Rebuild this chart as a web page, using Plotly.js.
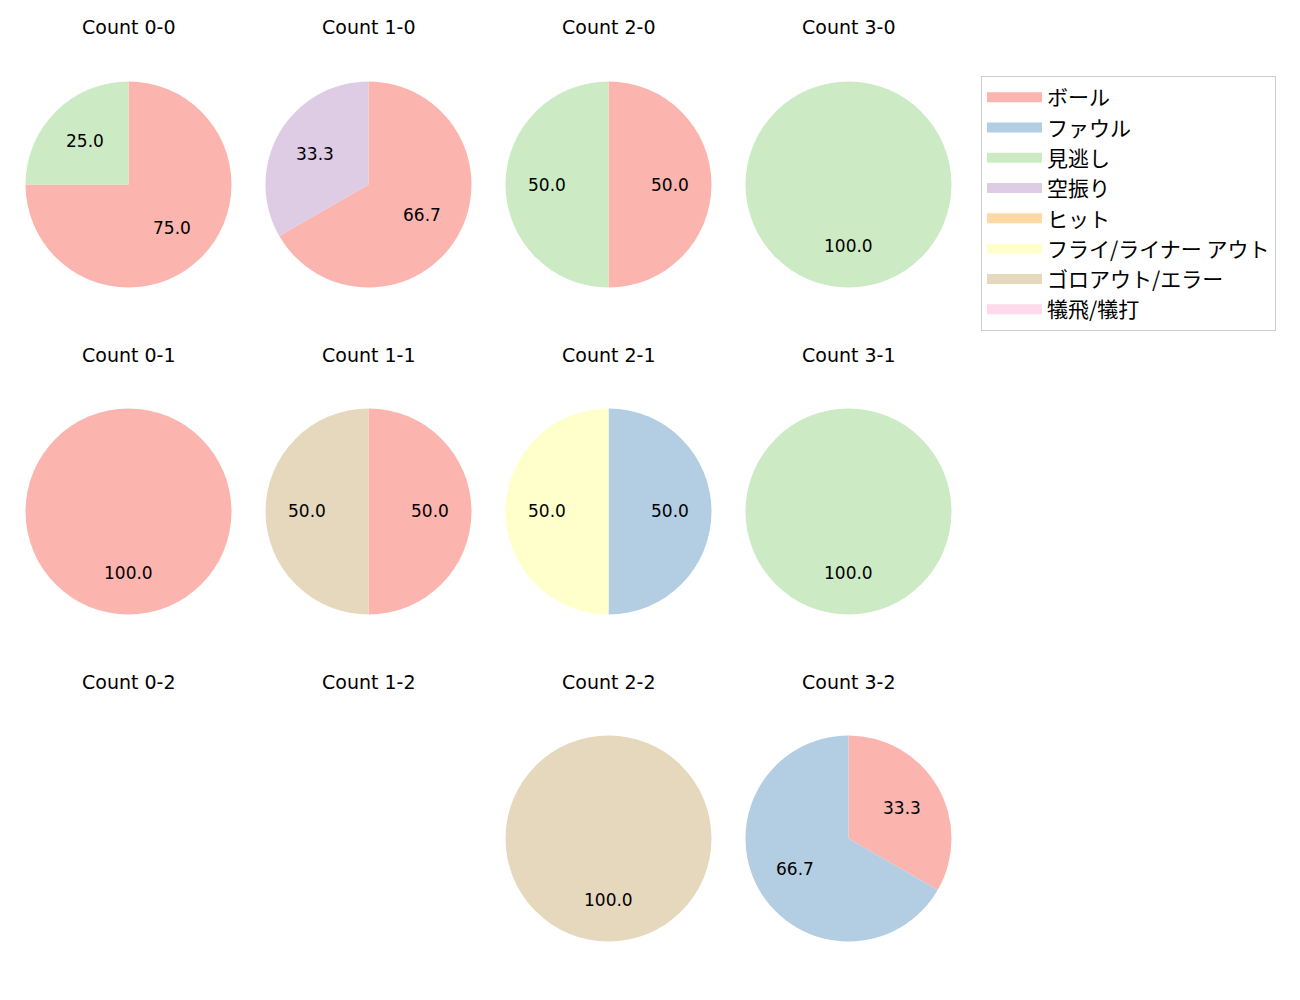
<!DOCTYPE html>
<html><head><meta charset="utf-8">
<script src="https://cdn.plot.ly/plotly-3.0.1.min.js"></script>
<style>body{margin:0;background:#fff}</style>
</head><body><div id="chart" style="width:1300px;height:1000px"></div>
<script>
// ---- data ----
const categories = ['ボール','ファウル','見逃し','空振り','ヒット','フライ/ライナー アウト','ゴロアウト/エラー','犠飛/犠打'];
const colors = ['#fbb4ae','#b3cde3','#ccebc5','#decbe4','#fed9a6','#ffffcc','#e5d8bd','#fddaec'];
const countLabels = ['0-0','1-0','2-0','3-0','0-1','1-1','2-1','3-1','0-2','1-2','2-2','3-2'];
const count_0_0 = [3,0,1,0,0,0,0,0];
const count_1_0 = [2,0,0,1,0,0,0,0];
const count_2_0 = [1,0,1,0,0,0,0,0];
const count_3_0 = [0,0,1,0,0,0,0,0];
const count_0_1 = [1,0,0,0,0,0,0,0];
const count_1_1 = [1,0,0,0,0,0,1,0];
const count_2_1 = [0,1,0,0,0,1,0,0];
const count_3_1 = [0,0,1,0,0,0,0,0];
const count_0_2 = [0,0,0,0,0,0,0,0];
const count_1_2 = [0,0,0,0,0,0,0,0];
const count_2_2 = [0,0,0,0,0,0,1,0];
const count_3_2 = [1,2,0,0,0,0,0,0];
const countValues = [count_0_0,count_1_0,count_2_0,count_3_0,count_0_1,count_1_1,count_2_1,count_3_1,count_0_2,count_1_2,count_2_2,count_3_2];

// ---- layout geometry ----
const W = 1300, H = 1000;
const R = 103;
const LATIN = '"DejaVu Sans", "Noto Sans CJK JP", sans-serif';
const CJK = '"Noto Sans CJK JP", "DejaVu Sans", sans-serif';
const traces = [];
const annotations = [];

countLabels.forEach((lab, i) => {
  const col = i % 4, row = Math.floor(i / 4);
  const cx = 128.5 + 240 * col;
  const cy = 184.5 + 327 * row;
  annotations.push({
    text: 'Count ' + lab, x: cx / W, y: 1 - (cy - 157) / H,
    xref: 'paper', yref: 'paper', xanchor: 'center', yanchor: 'middle',
    showarrow: false, font: {family: LATIN, size: 19, color: '#000'}
  });
  const vals = countValues[i];
  const labs = [], v = [], c = [];
  vals.forEach((val, k) => { if (val > 0) { labs.push(categories[k]); v.push(val); c.push(colors[k]); } });
  if (!v.length) return;
  traces.push({
    type: 'pie', labels: labs, values: v, marker: {colors: c, line: {width: 0}},
    sort: false, direction: 'clockwise', rotation: 0, textinfo: 'none',
    hoverinfo: 'label+percent', showlegend: false,
    domain: {x: [(cx - R) / W, (cx + R) / W], y: [1 - (cy + R) / H, 1 - (cy - R) / H]}
  });
  const total = v.reduce((a, b) => a + b, 0);
  let cum = 0;
  v.forEach(val => {
    const mid = (cum + val / 2) / total * 2 * Math.PI;
    cum += val;
    const px = cx + 0.6 * R * Math.sin(mid);
    const py = cy - 0.6 * R * Math.cos(mid);
    annotations.push({
      text: (val / total * 100).toFixed(1), x: px / W, y: 1 - py / H,
      xref: 'paper', yref: 'paper', xanchor: 'center', yanchor: 'middle',
      showarrow: false, font: {family: LATIN, size: 17, color: '#000'}
    });
  });
});

// legend entries
categories.forEach((name, k) => {
  traces.push({
    type: 'scatter', mode: 'lines', x: [null], y: [null], name: name,
    line: {color: colors[k], width: 14}, hoverinfo: 'skip', legendgroup: 'g' + k
  });
});

const layout = {
  width: W, height: H, margin: {l: 0, r: 0, t: 0, b: 0},
  paper_bgcolor: '#fff', plot_bgcolor: 'rgba(0,0,0,0)',
  xaxis: {visible: false}, yaxis: {visible: false},
  showlegend: true, hovermode: false,
  legend: {
    x: 981 / W, y: 1 - 76 / H, xanchor: 'left', yanchor: 'top',
    bordercolor: '#cccccc', borderwidth: 1, bgcolor: '#fff',
    font: {family: CJK, size: 21, color: '#000'},
    itemwidth: 55, tracegroupgap: 3, traceorder: 'normal'
  },
  annotations: annotations
};
Plotly.newPlot('chart', traces, layout, {displayModeBar: false, staticPlot: true});
</script>
</body></html>
